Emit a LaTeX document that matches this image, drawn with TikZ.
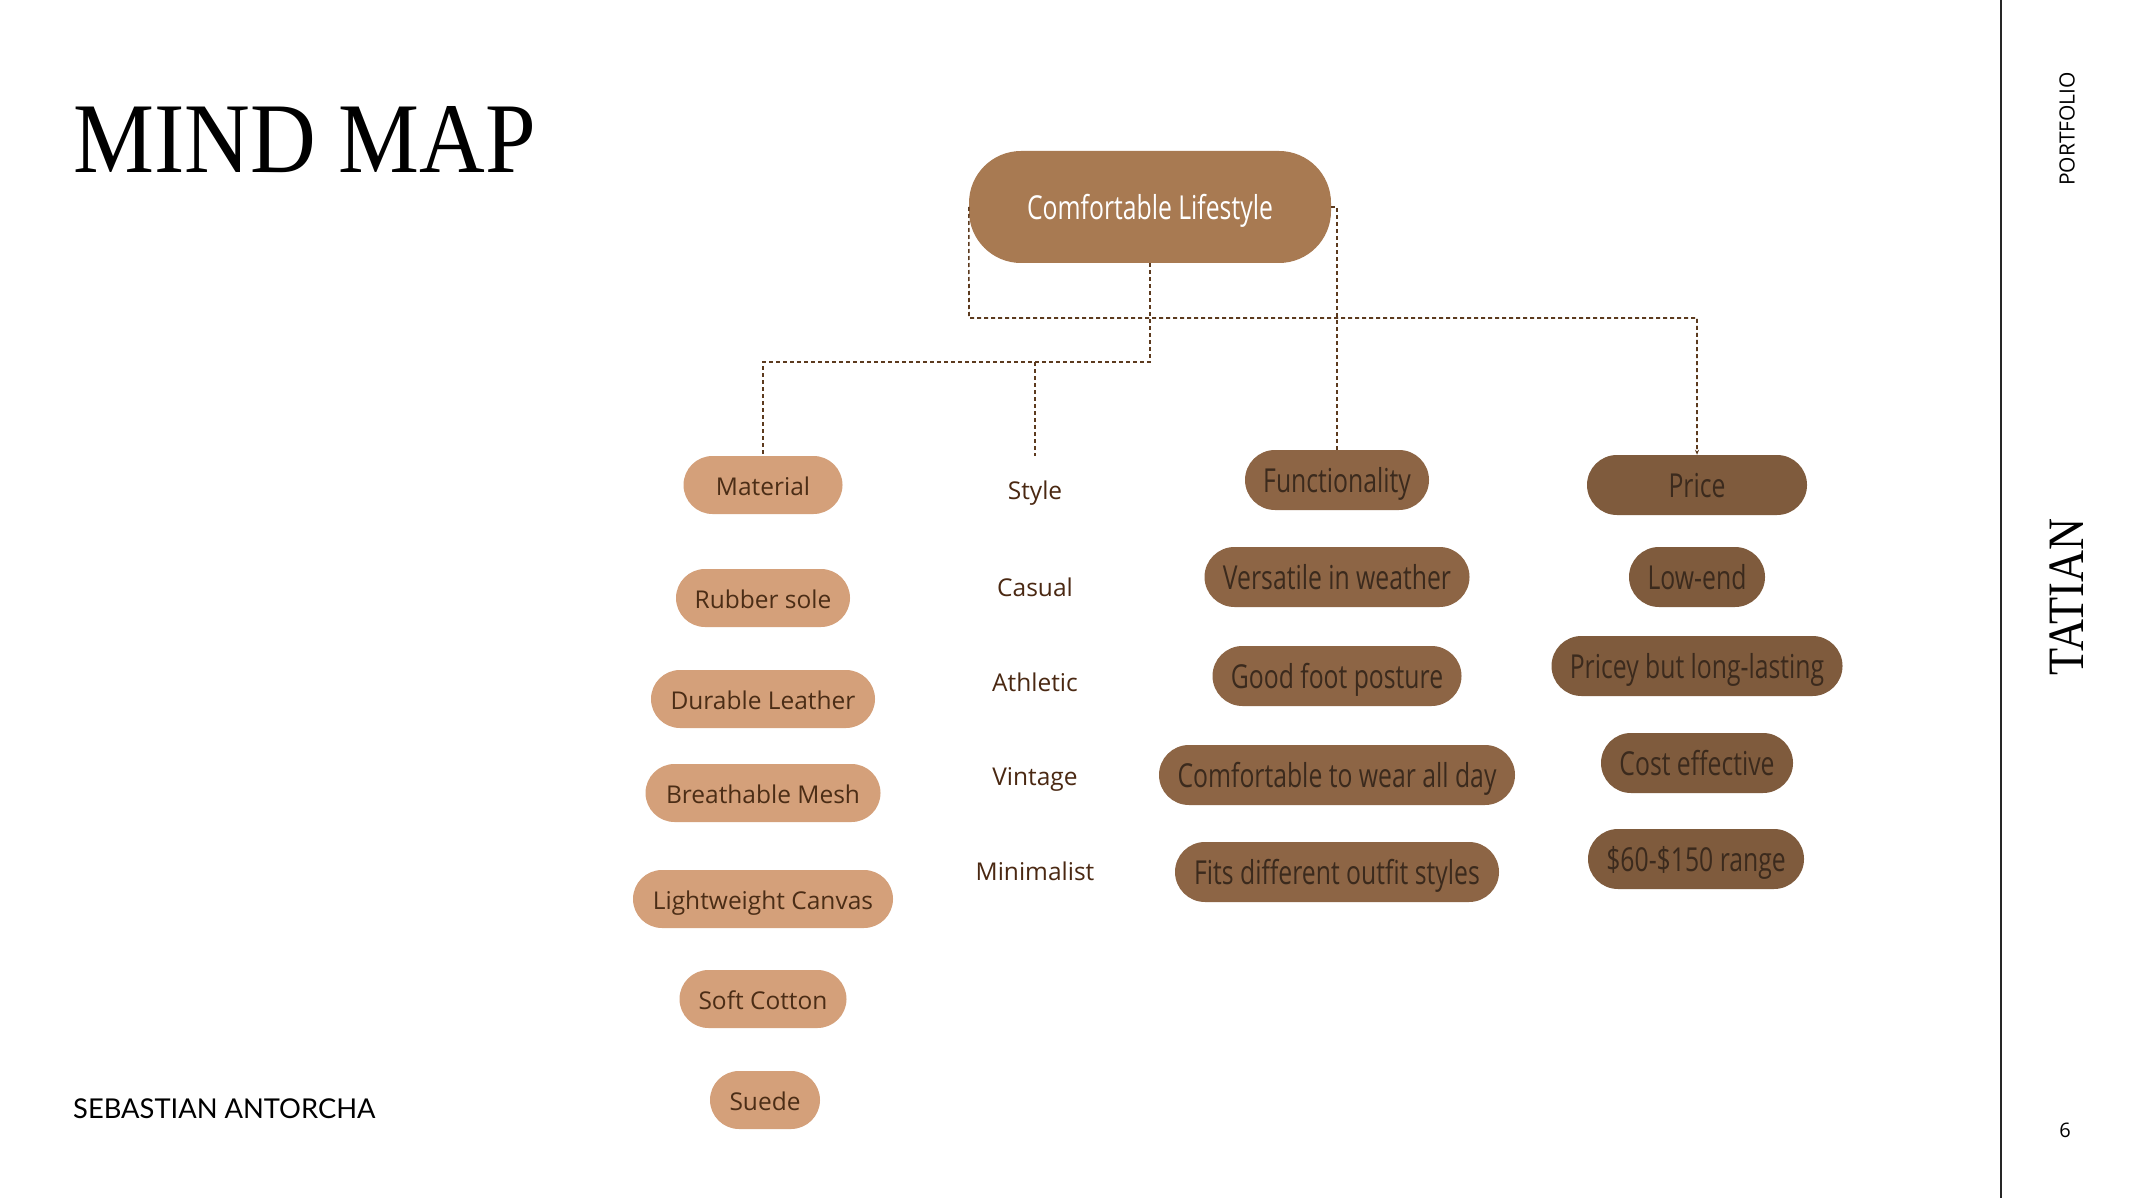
\documentclass[tikz,border=0pt]{standalone}
\usepackage{fontspec}
\setmainfont{Open Sans}
\newfontfamily\condfont[FakeStretch=0.75]{Open Sans}
\newfontfamily\titlefont[FakeStretch=0.91]{Liberation Serif}
\newfontfamily\tatianfont[FakeStretch=0.87]{Liberation Serif}
\newfontfamily\namefont{Lato}
\usetikzlibrary{arrows.meta}
\definecolor{rootc}{HTML}{A87A52}
\definecolor{matc}{HTML}{D4A07A}
\definecolor{funcc}{HTML}{8D6545}
\definecolor{pricec}{HTML}{7F5B3D}
\definecolor{mattext}{HTML}{4B2D16}
\definecolor{darktext}{HTML}{3B2A1D}
\definecolor{stytext}{HTML}{4A2812}
\definecolor{linec}{HTML}{5C3A1E}
\tikzset{
  rootbox/.style={fill=rootc, rounded corners=52pt, minimum width=362pt, minimum height=112pt,
    inner sep=0pt, text=white, font=\condfont\fontsize{33}{36}\selectfont, text height=32pt, text depth=7pt},
  matbox/.style={fill=matc, rounded corners=29pt, minimum height=58pt, inner sep=0pt,
    text=mattext, font=\fontsize{24.5}{28}\selectfont, text height=25.5pt, text depth=5pt},
  funbox/.style={fill=funcc, rounded corners=30pt, minimum height=60pt, inner sep=0pt,
    text=darktext, font=\condfont\fontsize{33}{36}\selectfont, text height=32pt, text depth=7pt},
  pribox/.style={funbox, fill=pricec},
  stytxt/.style={inner sep=0pt, text=stytext, font=\fontsize{24.5}{28}\selectfont, text height=25.5pt, text depth=5pt},
  conn/.style={draw=linec, line width=1.6pt, dash pattern=on 4pt off 3pt},
}
\begin{document}
\begin{tikzpicture}[x=1pt,y=-1pt]
\fill[white] (0,0) rectangle (2132,1198);
\useasboundingbox (0,0) rectangle (2132,1198);

% header / footer
\node[anchor=base west, inner sep=0pt, font=\titlefont\fontsize{100}{100}\selectfont] (title) at (73,173) {MIND MAP};
\node[anchor=base west, inner sep=0pt, font=\namefont\fontsize{27.3}{30}\selectfont] (author) at (73,1118) {SEBASTIAN ANTORCHA};
\draw[line width=2pt, black!85] (2001,0) -- (2001,1198);
\node[rotate=90, inner sep=0pt, font=\fontsize{21}{24}\selectfont] (portfolio) at (2067,129) {PORTFOLIO};
\node[rotate=90, inner sep=0pt, font=\tatianfont\fontsize{51}{54}\selectfont] (tatian) at (2067,597) {TATIAN};
\node[inner sep=0pt, font=\fontsize{20}{22}\selectfont] (page) at (2065,1130) {6};

% root
\node[rootbox] (root) at (1150,207) {Comfortable Lifestyle};

% material column
\node[matbox, minimum width=159pt] (mat) at (763,485) {Material};
\node[matbox, minimum width=174pt] (m1) at (763,598) {Rubber sole};
\node[matbox, minimum width=224pt] (m2) at (763,699) {Durable Leather};
\node[matbox, minimum width=235pt] (m3) at (763,793) {Breathable Mesh};
\node[matbox, minimum width=260pt] (m4) at (763,899) {Lightweight Canvas};
\node[matbox, minimum width=167pt] (m5) at (763,999) {Soft Cotton};
\node[matbox, minimum width=110pt] (m6) at (765,1100) {Suede};

% style column
\node[stytxt] (sty) at (1035,489) {Style};
\node[stytxt] (s1) at (1035,586) {Casual};
\node[stytxt] (s2) at (1035,681) {Athletic};
\node[stytxt] (s3) at (1035,775) {Vintage};
\node[stytxt] (s4) at (1035,870) {Minimalist};

% functionality column
\node[funbox, minimum width=184pt] (fun) at (1337,480) {Functionality};
\node[funbox, minimum width=265pt] (f1) at (1337,577) {Versatile in weather};
\node[funbox, minimum width=249pt] (f2) at (1337,676) {Good foot posture};
\node[funbox, minimum width=356pt] (f3) at (1337,775) {Comfortable to wear all day};
\node[funbox, minimum width=324pt] (f4) at (1337,872) {Fits different outfit styles};

% price column
\node[pribox, minimum width=220pt] (pri) at (1697,485) {Price};
\node[pribox, minimum width=136pt] (p1) at (1697,577) {Low-end};
\node[pribox, minimum width=291pt] (p2) at (1697,666) {Pricey but long-lasting};
\node[pribox, minimum width=192pt] (p3) at (1697,763) {Cost effective};
\node[pribox, minimum width=216pt] (p4) at (1696,859) {\$60-\$150 range};

% connectors
\coordinate (j1) at (1150,362);
\coordinate (j2) at (969,318);
\coordinate (sj) at (1035,362);
\coordinate (se) at (1035,456);
\draw[conn] (root.south) -- (j1) -| (mat.north);
\draw[conn] (sj) -- (se);
\draw[conn, -{Stealth[length=5pt,width=4pt]}] (root.west) -- (j2) -| (pri.north);
\draw[conn] (root.east) -- (fun.north |- root.east) -- (fun.north);
\end{tikzpicture}
\end{document}
